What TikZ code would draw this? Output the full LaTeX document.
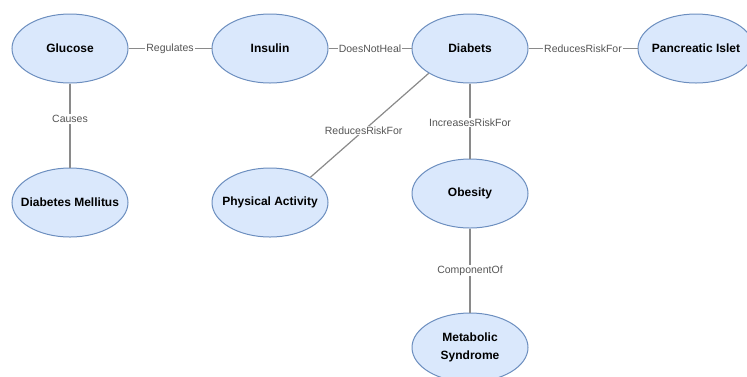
\documentclass[tikz,border=0pt]{standalone}
\usepackage{fontspec}
\setmainfont{Liberation Sans}
\usetikzlibrary{shapes.geometric}
\definecolor{nodefill}{HTML}{DAE8FC}
\definecolor{nodeline}{HTML}{6C8EBF}
\definecolor{edgecol}{HTML}{8A8A8A}
\definecolor{labcol}{HTML}{555555}
\newcommand{\zw}[1]{\makebox[0pt][c]{#1}}
\tikzset{
  concept/.style={ellipse, draw=nodeline, fill=nodefill, line width=1pt,
    minimum width=116pt, minimum height=69pt, inner sep=0pt,
    font=\fontsize{12}{14}\selectfont\bfseries, align=center, text=black},
  link/.style={draw=edgecol, line width=1.2pt},
  lab/.style={fill=white, inner sep=1pt, text=labcol, font=\fontsize{10.5}{12}\selectfont}
}
\begin{document}
\begin{tikzpicture}[x=1pt,y=-1pt]
\useasboundingbox (0,0) rectangle (747,376);
\begin{scope}
\clip (0,0) rectangle (747,376);
\node[concept] (glu) at (70,48.5) {Glucose};
\node[concept] (ins) at (270,48.5) {Insulin};
\node[concept] (dia) at (470,48.5) {Diabets};
\node[concept] (pan) at (696,48.5) {\zw{Pancreatic Islet}};
\node[concept] (dm) at (70,202.5) {\zw{Diabetes Mellitus}};
\node[concept] (pa) at (270,202.5) {\zw{Physical Activity}};
\node[concept] (obe) at (470,193.5) {Obesity};
\node[concept] (met) at (470,347.5) {Metabolic\\[4pt]Syndrome};
\end{scope}
\draw[link] (glu) -- node[lab] {Regulates} (ins);
\draw[link] (ins) -- node[lab] {DoesNotHeal} (dia);
\draw[link] (dia) -- node[lab] {ReducesRiskFor} (pan);
\draw[link] (glu) -- node[lab, pos=0.42] {Causes} (dm);
\draw[link] (dia.211) -- node[lab, pos=0.55] {ReducesRiskFor} (pa.32);
\draw[link] (dia) -- node[lab, pos=0.52] {IncreasesRiskFor} (obe);
\draw[link] (obe) -- node[lab] {ComponentOf} (met);
\end{tikzpicture}
\end{document}
